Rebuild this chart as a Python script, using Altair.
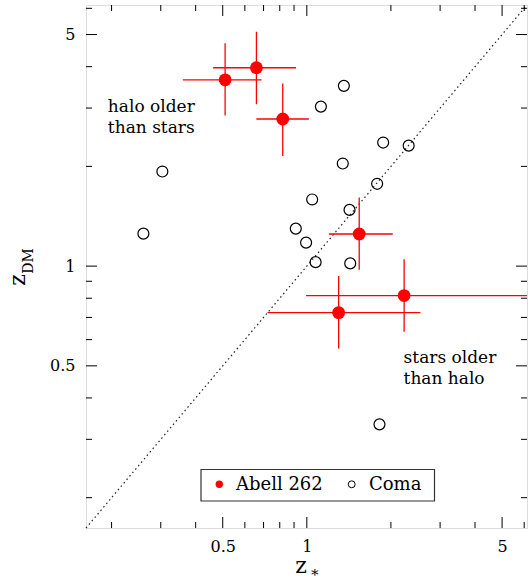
import altair as alt
import pandas as pd

# ---- data ----
abell_x = [0.51, 0.66, 0.82, 1.54, 2.23, 1.30]
abell_y = [3.65, 3.97, 2.78, 1.25, 0.815, 0.724]
abell_xlo = [0.36, 0.462, 0.66, 1.20, 0.994, 0.723]
abell_xhi = [0.688, 0.915, 1.017, 2.03, 7.0, 2.55]
abell_ylo = [2.85, 3.08, 2.15, 0.975, 0.634, 0.564]
abell_yhi = [4.71, 5.10, 3.56, 1.61, 1.048, 0.933]

coma_x = [1.357, 1.123, 1.876, 2.315, 1.345, 0.304, 1.785, 1.045, 1.422, 0.913, 0.26, 0.994, 1.075, 1.43, 1.82]
coma_y = [3.50, 3.03, 2.36, 2.31, 2.04, 1.93, 1.772, 1.589, 1.478, 1.298, 1.253, 1.177, 1.028, 1.019, 0.333]

label_values = [0.5, 1, 5]
major_ticks = [0.5, 1, 5]
minor_ticks = [0.2, 0.3, 0.4, 0.6, 0.7, 0.8, 0.9, 2, 3, 4, 6]
domain = [0.162, 6.14]

ann_text = ["halo older\nthan stars", "stars older\nthan halo"]
ann_x = [0.194, 2.22]
ann_y = [2.92, 0.509]

legend_labels = ["Abell 262", "Coma"]

# ---- layout ----
W, H = 441, 523
FONT = "DejaVu Serif"
RED = "#ff0000"

xs = alt.Scale(type="log", domain=domain, nice=False)
ys = alt.Scale(type="log", domain=domain, nice=False)

abell = pd.DataFrame(dict(x=abell_x, y=abell_y, xlo=abell_xlo, xhi=abell_xhi,
                          ylo=abell_ylo, yhi=abell_yhi))
coma = pd.DataFrame(dict(x=coma_x, y=coma_y))
diag = pd.DataFrame(dict(x=domain, y=domain))
majors = pd.DataFrame(dict(v=major_ticks))
minors = pd.DataFrame(dict(v=minor_ticks))
ann = pd.DataFrame(dict(t=ann_text, x=ann_x, y=ann_y))

xaxis = alt.Axis(values=label_values, format="~g", ticks=False, tickSize=0, domain=False,
                 grid=False, labelFont=FONT, labelFontSize=16, labelColor="black",
                 labelPadding=10, title=None, labelOverlap=False)
yaxis = alt.Axis(values=label_values, format="~g", ticks=False, tickSize=0, domain=False,
                 grid=False, labelFont=FONT, labelFontSize=16, labelColor="black",
                 labelPadding=11, title=None, labelOverlap=False)

base_diag = alt.Chart(diag).mark_line(color="#222", strokeWidth=1.2, strokeDash=[1.5, 3]).encode(
    x=alt.X("x:Q", scale=xs, axis=xaxis),
    y=alt.Y("y:Q", scale=ys, axis=yaxis),
)

layers = [base_diag]

# inward ticks on all four sides
for df, L in ((majors, 11), (minors, 6)):
    layers.append(alt.Chart(df).mark_rule(color="black", strokeWidth=1).encode(
        x=alt.X("v:Q", scale=xs), y=alt.value(H), y2=alt.value(H - L)))
    layers.append(alt.Chart(df).mark_rule(color="black", strokeWidth=1).encode(
        x=alt.X("v:Q", scale=xs), y=alt.value(0), y2=alt.value(L)))
    layers.append(alt.Chart(df).mark_rule(color="black", strokeWidth=1).encode(
        y=alt.Y("v:Q", scale=ys), x=alt.value(0), x2=alt.value(L)))
    layers.append(alt.Chart(df).mark_rule(color="black", strokeWidth=1).encode(
        y=alt.Y("v:Q", scale=ys), x=alt.value(W), x2=alt.value(W - L)))

# error bars
layers.append(alt.Chart(abell).mark_rule(color=RED, strokeWidth=1.3, clip=True).encode(
    x=alt.X("xlo:Q", scale=xs), x2="xhi:Q", y=alt.Y("y:Q", scale=ys)))
layers.append(alt.Chart(abell).mark_rule(color=RED, strokeWidth=1.3, clip=True).encode(
    y=alt.Y("ylo:Q", scale=ys), y2="yhi:Q", x=alt.X("x:Q", scale=xs)))

layers.append(alt.Chart(abell).mark_point(shape="circle", filled=True, color=RED, size=165, opacity=1).encode(
    x=alt.X("x:Q", scale=xs), y=alt.Y("y:Q", scale=ys)))
layers.append(alt.Chart(coma).mark_point(shape="circle", filled=False, color="black", strokeWidth=1.2,
                                         size=120, opacity=1).encode(
    x=alt.X("x:Q", scale=xs), y=alt.Y("y:Q", scale=ys)))

# annotations
layers.append(alt.Chart(ann).mark_text(font=FONT, fontSize=17, align="left", baseline="alphabetic",
                                       lineBreak="\n", lineHeight=21, color="black").encode(
    x=alt.X("x:Q", scale=xs), y=alt.Y("y:Q", scale=ys), text="t:N"))

# legend box
leg = pd.DataFrame(dict(label=legend_labels, tx=[150, 283]))
layers.append(alt.Chart(leg.head(1)).mark_rect(fill="white", stroke="#333", strokeWidth=1.2).encode(
    x=alt.value(115), x2=alt.value(348.5), y=alt.value(464.5), y2=alt.value(496)))
layers.append(alt.Chart(leg.head(1)).mark_point(shape="circle", filled=True, color=RED, size=55, opacity=1).encode(
    x=alt.value(133.3), y=alt.value(479.3)))
layers.append(alt.Chart(leg.tail(1)).mark_point(shape="circle", filled=False, color="black", strokeWidth=1,
                                                size=48, opacity=1).encode(
    x=alt.value(265.7), y=alt.value(479.3)))
layers.append(alt.Chart(leg).mark_text(font=FONT, fontSize=18, align="left", baseline="middle",
                                       color="black").encode(
    x=alt.X("tx:Q", scale=None), y=alt.value(480), text="label:N"))

# axis titles with subscripts
ttl = pd.DataFrame(dict(a=["z"]))
layers.append(alt.Chart(ttl).mark_text(font=FONT, fontSize=22, align="center", baseline="alphabetic",
                                       color="black", text="z").encode(
    x=alt.value(215), y=alt.value(568)))
layers.append(alt.Chart(ttl).mark_text(font=FONT, fontSize=15, align="center", baseline="alphabetic",
                                       color="black", text="\u2217").encode(
    x=alt.value(228.5), y=alt.value(572)))
layers.append(alt.Chart(ttl).mark_text(font=FONT, fontSize=22, align="center", baseline="alphabetic",
                                       color="black", text="z", angle=270).encode(
    x=alt.value(-61), y=alt.value(275)))
layers.append(alt.Chart(ttl).mark_text(font=FONT, fontSize=14, align="center", baseline="alphabetic",
                                       color="black", text="DM", angle=270).encode(
    x=alt.value(-52.7), y=alt.value(256)))

chart = alt.layer(*layers).properties(
    width=W, height=H,
    autosize=alt.AutoSizeParams(type="none"),
    padding={"left": 86, "top": 5, "right": 1, "bottom": 53},
).configure_view(stroke="black", strokeWidth=1.2).configure(background="white")

chart.save("out.html", embed_options={"renderer": "svg", "actions": False})
